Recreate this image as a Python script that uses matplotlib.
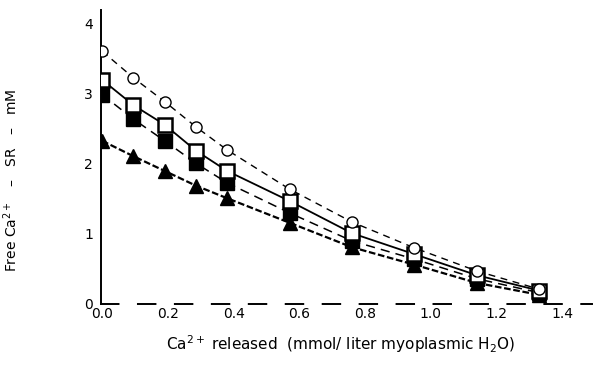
import matplotlib
matplotlib.use("Agg")
import matplotlib.pyplot as plt

# Data
ca_released = [0.0, 0.095, 0.19, 0.285, 0.38, 0.57, 0.76, 0.95, 1.14, 1.33]
open_circles = [3.61, 3.23, 2.89, 2.53, 2.20, 1.64, 1.17, 0.80, 0.47, 0.21]
open_squares = [3.20, 2.84, 2.56, 2.19, 1.90, 1.47, 1.01, 0.71, 0.41, 0.19]
filled_squares = [2.99, 2.64, 2.33, 2.01, 1.73, 1.30, 0.90, 0.64, 0.36, 0.16]
filled_triangles = [2.33, 2.11, 1.90, 1.69, 1.51, 1.16, 0.81, 0.56, 0.30, 0.13]

x_ticks = [0.0, 0.2, 0.4, 0.6, 0.8, 1.0, 1.2, 1.4]
x_tick_labels = ["0.0", "0.2", "0.4", "0.6", "0.8", "1.0", "1.2", "1.4"]
y_ticks = [0, 1, 2, 3, 4]
y_tick_labels = ["0", "1", "2", "3", "4"]

plt.rcParams['font.family'] = ['DejaVu Sans']

fig = plt.figure(figsize=(5.95, 3.79), dpi=100)
ax = fig.add_axes([0.170, 0.198, 0.825, 0.776])

# triangles: heavy dense dashed line
ax.plot(ca_released, filled_triangles, color='black', lw=1.6,
        linestyle=(0, (3, 1.2)), marker='^', markersize=10,
        markerfacecolor='black', markeredgecolor='black', zorder=3)
# filled squares: dashed
ax.plot(ca_released, filled_squares, color='black', lw=1.1,
        linestyle=(0, (6, 4)), marker='s', markersize=10,
        markerfacecolor='black', markeredgecolor='black', zorder=4)
# open squares: solid
ax.plot(ca_released, open_squares, color='black', lw=1.3,
        linestyle='-', marker='s', markersize=10,
        markerfacecolor='white', markeredgecolor='black', markeredgewidth=1.8, zorder=5)
# open circles: dashed
ax.plot(ca_released, open_circles, color='black', lw=1.0,
        linestyle=(0, (5, 4)), marker='o', markersize=8,
        markerfacecolor='white', markeredgecolor='black', markeredgewidth=1.0, zorder=6)

ax.set_xlim(-0.003, 1.49)
ax.set_ylim(0, 4.2)

ax.set_xticks(x_ticks)
ax.set_xticklabels(x_tick_labels, fontsize=10)
ax.set_yticks(y_ticks)
ax.set_yticklabels(y_tick_labels, fontsize=10)
ax.tick_params(axis='x', length=0, pad=2)
ax.tick_params(axis='y', length=0, pad=6)

for s in ['top', 'right']:
    ax.spines[s].set_visible(False)
ax.spines['left'].set_linewidth(1.4)
ax.spines['bottom'].set_linewidth(1.4)
ax.spines['bottom'].set_linestyle((0, (9, 10)))

ax.set_xlabel("Ca$^{2+}$ released  (mmol/ liter myoplasmic H$_2$O)", fontsize=11)
ax.xaxis.set_label_coords(0.487, -0.10)
ax.set_ylabel("Free Ca$^{2+}$   –   SR   –   mM", fontsize=10)
ax.yaxis.set_label_coords(-0.165, 0.42)

fig.savefig("out.png", dpi=100, facecolor='white')
